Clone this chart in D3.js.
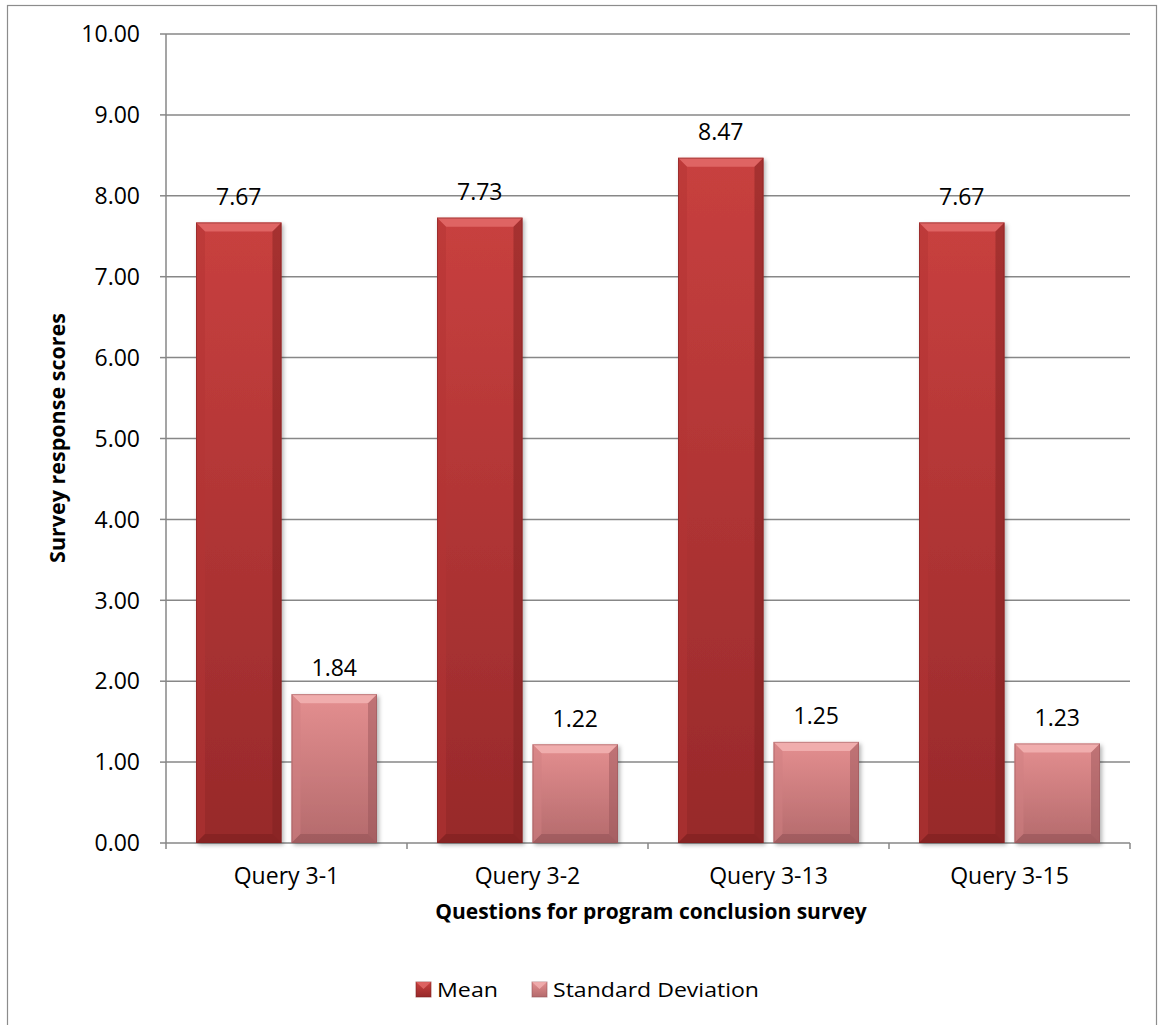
<!DOCTYPE html>
<html><head><meta charset="utf-8">
<script src="https://cdn.jsdelivr.net/npm/d3@7"></script>
<style>body{margin:0;background:#fff;} svg{display:block;font-family:"Open Sans","Noto Sans",sans-serif;}</style>
</head><body>
<svg id="chart" width="1158" height="1025"></svg>
<script>
const categories = ["Query 3-1","Query 3-2","Query 3-13","Query 3-15"];
const seriesNames = ["Mean","Standard Deviation"];
const meanValues = [7.67, 7.73, 8.47, 7.67];
const sdValues = [1.84, 1.22, 1.25, 1.23];
const yTicks = [0,1,2,3,4,5,6,7,8,9,10];

const svg = d3.select("#chart");
const m = {left:166, top:34, right:1130, bottom:843};

svg.append("rect").attr("x",7.5).attr("y",5.5).attr("width",1149).attr("height",1030)
  .attr("fill","#fff").attr("stroke","#8c8c8c").attr("stroke-width",1.2);

const defs = svg.append("defs");
const pal = [
  {id:"g0", top:"#c8403f", bot:"#97292a", light:"#e36b6a", dark:"#7d1f20", side:"#b33434"},
  {id:"g1", top:"#e48f90", bot:"#b46a6c", light:"#f2b3b3", dark:"#955357", side:"#cf8082"}
];
pal.forEach(p=>{
  const g = defs.append("linearGradient").attr("id",p.id).attr("x1",0).attr("y1",0).attr("x2",0).attr("y2",1);
  g.append("stop").attr("offset","0%").attr("stop-color",p.top);
  g.append("stop").attr("offset","100%").attr("stop-color",p.bot);
});
const f = defs.append("filter").attr("id","sh").attr("x","-10%").attr("y","-5%").attr("width","130%").attr("height","115%");
f.append("feDropShadow").attr("dx",2).attr("dy",2).attr("stdDeviation",2).attr("flood-color","#000").attr("flood-opacity",0.3);

const x0 = d3.scaleBand().domain(categories).range([m.left,m.right]).paddingInner(0).paddingOuter(0);
const x1 = d3.scaleBand().domain(seriesNames).range([30, x0.bandwidth()-30]).paddingInner(19/181);
const y = d3.scaleLinear().domain([0,10]).range([m.bottom,m.top]);

// gridlines
svg.append("g").selectAll("line").data(yTicks).join("line")
  .attr("x1",m.left).attr("x2",m.right).attr("y1",d=>y(d)).attr("y2",d=>y(d))
  .attr("stroke","#878787").attr("stroke-width",1.5);
svg.append("line").attr("x1",m.left).attr("x2",m.left).attr("y1",m.top).attr("y2",m.bottom)
  .attr("stroke","#878787").attr("stroke-width",1.5);
svg.append("g").selectAll("line").data(yTicks).join("line")
  .attr("x1",m.left-6).attr("x2",m.left).attr("y1",d=>y(d)).attr("y2",d=>y(d))
  .attr("stroke","#878787").attr("stroke-width",1.5);
svg.append("g").selectAll("text").data(yTicks).join("text")
  .attr("x",m.left-26).attr("y",d=>y(d)).attr("dy","0.36em").attr("text-anchor","end")
  .attr("font-size",23).attr("fill","#000").text(d=>d3.format(".2f")(d));
svg.append("g").selectAll("line").data(d3.range(categories.length+1)).join("line")
  .attr("x1",i=>m.left+i*x0.bandwidth()).attr("x2",i=>m.left+i*x0.bandwidth())
  .attr("y1",m.bottom).attr("y2",m.bottom+6).attr("stroke","#878787").attr("stroke-width",1.5);
svg.append("g").selectAll("text").data(categories).join("text")
  .attr("x",d=>x0(d)+x0.bandwidth()/2).attr("y",876).attr("dy","0.36em").attr("text-anchor","middle")
  .attr("font-size",23).attr("fill","#000").text(d=>d);

function bevelBar(g, bx, by, bw, bh, p){
  const b = Math.min(9, bh/2);
  g.append("rect").attr("x",bx).attr("y",by).attr("width",bw).attr("height",bh)
    .attr("fill",`url(#${p.id})`).attr("filter","url(#sh)");
  g.append("path").attr("d",`M${bx},${by} L${bx+bw},${by} L${bx+bw-b},${by+b} L${bx+b},${by+b} Z`).attr("fill",p.light).attr("opacity",0.85);
  g.append("path").attr("d",`M${bx},${by} L${bx+b},${by+b} L${bx+b},${by+bh-b} L${bx},${by+bh} Z`).attr("fill",p.side).attr("opacity",0.5);
  g.append("path").attr("d",`M${bx+bw},${by} L${bx+bw-b},${by+b} L${bx+bw-b},${by+bh-b} L${bx+bw},${by+bh} Z`).attr("fill",p.dark).attr("opacity",0.45);
  g.append("path").attr("d",`M${bx},${by+bh} L${bx+b},${by+bh-b} L${bx+bw-b},${by+bh-b} L${bx+bw},${by+bh} Z`).attr("fill",p.dark).attr("opacity",0.6);
  g.append("rect").attr("x",bx+0.5).attr("y",by+0.5).attr("width",bw-1).attr("height",bh-1)
    .attr("fill","none").attr("stroke",p.dark).attr("stroke-opacity",0.5);
}
const series = [meanValues, sdValues];
const barsG = svg.append("g");
const labG = svg.append("g");
categories.forEach((c,i)=>{
  series.forEach((vals,s)=>{
    const bx = x0(c)+x1(seriesNames[s]);
    const bw = x1.bandwidth();
    const by = y(vals[i]);
    const bh = y(0)-by;
    bevelBar(barsG.append("g"), bx, by, bw, bh, pal[s]);
    labG.append("text").attr("x",bx+bw/2).attr("y",by-26).attr("dy","0.36em").attr("text-anchor","middle")
      .attr("font-size",23).attr("fill","#000").text(d3.format(".2f")(vals[i]));
  });
});

svg.append("text").attr("transform",`translate(57,438) rotate(-90)`).attr("text-anchor","middle")
  .attr("dy","0.36em").attr("font-size",21.5).attr("font-weight","bold").text("Survey response scores");
svg.append("text").attr("x",651).attr("y",911).attr("dy","0.36em").attr("text-anchor","middle")
  .attr("font-size",21).attr("font-weight","bold").text("Questions for program conclusion survey");

const lg = svg.append("g");
const legX = [416, 532];
const legW = [61, 206];
seriesNames.forEach((n,s)=>{
  const p = pal[s];
  lg.append("rect").attr("x",legX[s]).attr("y",982).attr("width",15).attr("height",15).attr("fill",`url(#${p.id})`).attr("stroke",p.dark).attr("stroke-opacity",0.6);
  lg.append("path").attr("d",`M${legX[s]},982 L${legX[s]+15},982 L${legX[s]+7.5},989 Z`).attr("fill",p.light).attr("opacity",0.8);
  lg.append("text").attr("x",legX[s]+21).attr("y",989.5).attr("dy","0.36em").attr("font-size",20)
    .attr("textLength",legW[s]).attr("lengthAdjust","spacingAndGlyphs").text(n);
});
</script>
</body></html>
